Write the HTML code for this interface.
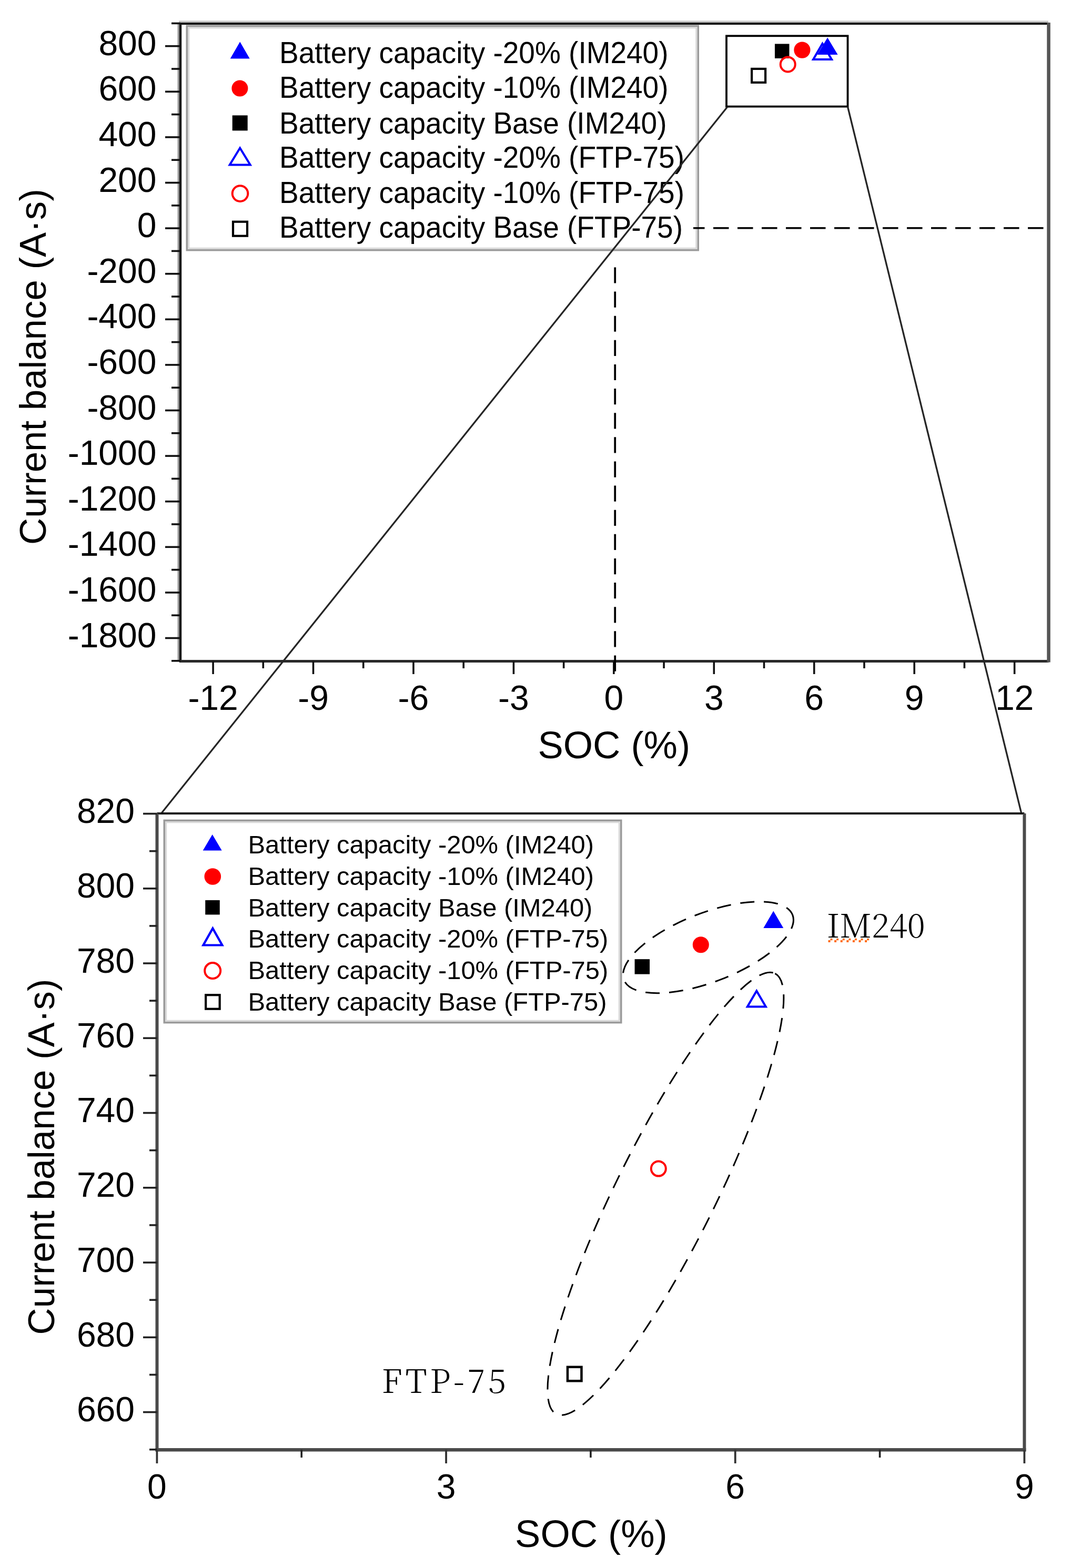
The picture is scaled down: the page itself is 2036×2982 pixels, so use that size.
<!DOCTYPE html>
<html><head><meta charset="utf-8"><title>Current balance vs SOC</title>
<style>
html,body{margin:0;padding:0;background:#fff;}
body{width:2036px;height:2982px;overflow:hidden;}
svg{display:block;}
text{fill:#000;}
.tl{font-family:'Liberation Sans', Arial, sans-serif;font-size:66px;}
.at{font-family:'Liberation Sans', Arial, sans-serif;font-size:70.8px;}
.ax{font-family:'Liberation Sans', Arial, sans-serif;font-size:72.4px;}
.lt{font-family:'Liberation Sans', Arial, sans-serif;font-size:55px;}
.lb{font-family:'Liberation Sans', Arial, sans-serif;font-size:48.9px;}
.an{font-family:'Noto Serif CJK SC','Liberation Serif', 'Times New Roman', serif;font-weight:300;font-size:62.5px;}
</style></head>
<body>
<svg width="2036" height="2982" viewBox="0 0 2036 2982">
<rect width="2036" height="2982" fill="#fff"/>
<line x1="339.2" y1="43" x2="339.2" y2="1258" stroke="#9a9a9a" stroke-width="3.4"/>
<line x1="340" y1="41.3" x2="1993" y2="41.3" stroke="#c4c4c4" stroke-width="3.4"/>
<line x1="343" y1="45" x2="1993.5" y2="45" stroke="#0a0a0a" stroke-width="4"/>
<line x1="343" y1="43" x2="343" y2="1259.5" stroke="#1a1a1a" stroke-width="4.5"/>
<line x1="341" y1="1257.5" x2="1993.5" y2="1257.5" stroke="#2a2a2a" stroke-width="5.2"/>
<line x1="1993.5" y1="43" x2="1993.5" y2="1259.5" stroke="#555" stroke-width="6.5"/>
<line x1="314" y1="87.7" x2="343" y2="87.7" stroke="#111" stroke-width="3.6"/>
<text x="297.5" y="104.7" text-anchor="end" class="tl">800</text>
<line x1="314" y1="174.3" x2="343" y2="174.3" stroke="#111" stroke-width="3.6"/>
<text x="297.5" y="191.3" text-anchor="end" class="tl">600</text>
<line x1="314" y1="260.9" x2="343" y2="260.9" stroke="#111" stroke-width="3.6"/>
<text x="297.5" y="277.9" text-anchor="end" class="tl">400</text>
<line x1="314" y1="347.5" x2="343" y2="347.5" stroke="#111" stroke-width="3.6"/>
<text x="297.5" y="364.5" text-anchor="end" class="tl">200</text>
<line x1="314" y1="434.1" x2="343" y2="434.1" stroke="#111" stroke-width="3.6"/>
<text x="297.5" y="451.1" text-anchor="end" class="tl">0</text>
<line x1="314" y1="520.7" x2="343" y2="520.7" stroke="#111" stroke-width="3.6"/>
<text x="297.5" y="537.7" text-anchor="end" class="tl">-200</text>
<line x1="314" y1="607.3" x2="343" y2="607.3" stroke="#111" stroke-width="3.6"/>
<text x="297.5" y="624.3" text-anchor="end" class="tl">-400</text>
<line x1="314" y1="693.9" x2="343" y2="693.9" stroke="#111" stroke-width="3.6"/>
<text x="297.5" y="710.9" text-anchor="end" class="tl">-600</text>
<line x1="314" y1="780.5" x2="343" y2="780.5" stroke="#111" stroke-width="3.6"/>
<text x="297.5" y="797.5" text-anchor="end" class="tl">-800</text>
<line x1="314" y1="867.1" x2="343" y2="867.1" stroke="#111" stroke-width="3.6"/>
<text x="297.5" y="884.1" text-anchor="end" class="tl">-1000</text>
<line x1="314" y1="953.7" x2="343" y2="953.7" stroke="#111" stroke-width="3.6"/>
<text x="297.5" y="970.7" text-anchor="end" class="tl">-1200</text>
<line x1="314" y1="1040.3" x2="343" y2="1040.3" stroke="#111" stroke-width="3.6"/>
<text x="297.5" y="1057.3" text-anchor="end" class="tl">-1400</text>
<line x1="314" y1="1126.9" x2="343" y2="1126.9" stroke="#111" stroke-width="3.6"/>
<text x="297.5" y="1143.9" text-anchor="end" class="tl">-1600</text>
<line x1="314" y1="1213.5" x2="343" y2="1213.5" stroke="#111" stroke-width="3.6"/>
<text x="297.5" y="1230.5" text-anchor="end" class="tl">-1800</text>
<line x1="326" y1="44.4" x2="343" y2="44.4" stroke="#111" stroke-width="3.6"/>
<line x1="326" y1="131" x2="343" y2="131" stroke="#111" stroke-width="3.6"/>
<line x1="326" y1="217.6" x2="343" y2="217.6" stroke="#111" stroke-width="3.6"/>
<line x1="326" y1="304.2" x2="343" y2="304.2" stroke="#111" stroke-width="3.6"/>
<line x1="326" y1="390.8" x2="343" y2="390.8" stroke="#111" stroke-width="3.6"/>
<line x1="326" y1="477.4" x2="343" y2="477.4" stroke="#111" stroke-width="3.6"/>
<line x1="326" y1="564" x2="343" y2="564" stroke="#111" stroke-width="3.6"/>
<line x1="326" y1="650.6" x2="343" y2="650.6" stroke="#111" stroke-width="3.6"/>
<line x1="326" y1="737.2" x2="343" y2="737.2" stroke="#111" stroke-width="3.6"/>
<line x1="326" y1="823.8" x2="343" y2="823.8" stroke="#111" stroke-width="3.6"/>
<line x1="326" y1="910.4" x2="343" y2="910.4" stroke="#111" stroke-width="3.6"/>
<line x1="326" y1="997" x2="343" y2="997" stroke="#111" stroke-width="3.6"/>
<line x1="326" y1="1083.6" x2="343" y2="1083.6" stroke="#111" stroke-width="3.6"/>
<line x1="326" y1="1170.2" x2="343" y2="1170.2" stroke="#111" stroke-width="3.6"/>
<line x1="326" y1="1256.8" x2="343" y2="1256.8" stroke="#111" stroke-width="3.6"/>
<line x1="405.08" y1="1257.5" x2="405.08" y2="1282" stroke="#111" stroke-width="3.6"/>
<text x="405.08" y="1349.5" text-anchor="middle" class="tl">-12</text>
<line x1="595.52" y1="1257.5" x2="595.52" y2="1282" stroke="#111" stroke-width="3.6"/>
<text x="595.52" y="1349.5" text-anchor="middle" class="tl">-9</text>
<line x1="785.96" y1="1257.5" x2="785.96" y2="1282" stroke="#111" stroke-width="3.6"/>
<text x="785.96" y="1349.5" text-anchor="middle" class="tl">-6</text>
<line x1="976.4" y1="1257.5" x2="976.4" y2="1282" stroke="#111" stroke-width="3.6"/>
<text x="976.4" y="1349.5" text-anchor="middle" class="tl">-3</text>
<line x1="1166.84" y1="1257.5" x2="1166.84" y2="1282" stroke="#111" stroke-width="3.6"/>
<text x="1166.84" y="1349.5" text-anchor="middle" class="tl">0</text>
<line x1="1357.28" y1="1257.5" x2="1357.28" y2="1282" stroke="#111" stroke-width="3.6"/>
<text x="1357.28" y="1349.5" text-anchor="middle" class="tl">3</text>
<line x1="1547.72" y1="1257.5" x2="1547.72" y2="1282" stroke="#111" stroke-width="3.6"/>
<text x="1547.72" y="1349.5" text-anchor="middle" class="tl">6</text>
<line x1="1738.16" y1="1257.5" x2="1738.16" y2="1282" stroke="#111" stroke-width="3.6"/>
<text x="1738.16" y="1349.5" text-anchor="middle" class="tl">9</text>
<line x1="1928.6" y1="1257.5" x2="1928.6" y2="1282" stroke="#111" stroke-width="3.6"/>
<text x="1928.6" y="1349.5" text-anchor="middle" class="tl">12</text>
<line x1="500.3" y1="1257.5" x2="500.3" y2="1271" stroke="#111" stroke-width="3.6"/>
<line x1="690.74" y1="1257.5" x2="690.74" y2="1271" stroke="#111" stroke-width="3.6"/>
<line x1="881.18" y1="1257.5" x2="881.18" y2="1271" stroke="#111" stroke-width="3.6"/>
<line x1="1071.62" y1="1257.5" x2="1071.62" y2="1271" stroke="#111" stroke-width="3.6"/>
<line x1="1262.06" y1="1257.5" x2="1262.06" y2="1271" stroke="#111" stroke-width="3.6"/>
<line x1="1452.5" y1="1257.5" x2="1452.5" y2="1271" stroke="#111" stroke-width="3.6"/>
<line x1="1642.94" y1="1257.5" x2="1642.94" y2="1271" stroke="#111" stroke-width="3.6"/>
<line x1="1833.38" y1="1257.5" x2="1833.38" y2="1271" stroke="#111" stroke-width="3.6"/>
<text x="1167.3" y="1441.6" text-anchor="middle" class="ax">SOC (%)</text>
<text transform="translate(86.7 697.6) rotate(-90)" x="0" y="0" text-anchor="middle" class="at">Current balance (A·s)</text>
<line x1="1169.2" y1="508.4" x2="1169.2" y2="1277" stroke="#000" stroke-width="3.8" stroke-dasharray="30.2 15.93"/>
<rect x="355.3" y="49.3" width="971.9" height="426.4" fill="#fff" stroke="#9a9a9a" stroke-width="3.6"/>
<rect x="358.7" y="52.7" width="965.1" height="419.6" fill="none" stroke="#d8d8d8" stroke-width="3"/>
<line x1="1318" y1="433.8" x2="1987" y2="433.8" stroke="#000" stroke-width="3.6" stroke-dasharray="29.5 16.5" stroke-dashoffset="8"/>
<polygon points="456.2,79.5 474.7,111.5 437.7,111.5" fill="#0000ff"/>
<circle cx="455.9" cy="168" r="15.5" fill="#ff0000"/>
<rect x="441.7" y="219.4" width="29" height="29" fill="#000"/>
<polygon points="456.2,281.5 475.7,313.5 436.7,313.5" fill="none" stroke="#0000ff" stroke-width="4" stroke-linejoin="miter"/>
<circle cx="456.5" cy="368.1" r="14.8" fill="none" stroke="#ff0000" stroke-width="4"/>
<rect x="443" y="421.7" width="27" height="27" fill="none" stroke="#000" stroke-width="4.2"/>
<text transform="translate(531 119.5) scale(1 1.05)" x="0" y="0" class="lt">Battery capacity -20% (IM240)</text>
<text transform="translate(531 185.5) scale(1 1.05)" x="0" y="0" class="lt">Battery capacity -10% (IM240)</text>
<text transform="translate(531 254.3) scale(1 1.05)" x="0" y="0" class="lt">Battery capacity Base (IM240)</text>
<text transform="translate(531 318.5) scale(1 1.05)" x="0" y="0" class="lt">Battery capacity -20% (FTP-75)</text>
<text transform="translate(531 385.5) scale(1 1.05)" x="0" y="0" class="lt">Battery capacity -10% (FTP-75)</text>
<text transform="translate(531 452) scale(1 1.05)" x="0" y="0" class="lt">Battery capacity Base (FTP-75)</text>
<rect x="1381" y="68.3" width="230.5" height="134.3" fill="none" stroke="#000" stroke-width="3.8"/>
<rect x="1472.95" y="83.45" width="27.5" height="27.5" fill="#000"/>
<circle cx="1524.9" cy="95.1" r="15.6" fill="#ff0000"/>
<circle cx="1497.7" cy="122.4" r="14" fill="none" stroke="#ff0000" stroke-width="4"/>
<rect x="1429.1" y="130.9" width="26" height="26" fill="none" stroke="#000" stroke-width="4.2"/>
<polygon points="1563.5,83 1581,113 1546,113" fill="none" stroke="#0000ff" stroke-width="4" stroke-linejoin="miter"/>
<polygon points="1573.1,71.5 1592.6,104 1553.6,104" fill="#0000ff"/>
<line x1="1383" y1="203" x2="306.5" y2="1547" stroke="#262626" stroke-width="3.3"/>
<line x1="1611.5" y1="203" x2="1942" y2="1548" stroke="#262626" stroke-width="3.3"/>
<line x1="298.5" y1="1547" x2="1947.4" y2="1547" stroke="#141414" stroke-width="4.2"/>
<line x1="298.5" y1="1547" x2="298.5" y2="2760.3" stroke="#4a4a4a" stroke-width="6"/>
<line x1="1947.4" y1="1547" x2="1947.4" y2="2760.3" stroke="#4a4a4a" stroke-width="6"/>
<line x1="295.5" y1="2757.3" x2="1950.4" y2="2757.3" stroke="#4a4a4a" stroke-width="6.5"/>
<line x1="272" y1="1547.5" x2="298.5" y2="1547.5" stroke="#222" stroke-width="3.6"/>
<text x="256" y="1565" text-anchor="end" class="tl">820</text>
<line x1="272" y1="1689.76" x2="298.5" y2="1689.76" stroke="#222" stroke-width="3.6"/>
<text x="256" y="1707.26" text-anchor="end" class="tl">800</text>
<line x1="272" y1="1832.02" x2="298.5" y2="1832.02" stroke="#222" stroke-width="3.6"/>
<text x="256" y="1849.52" text-anchor="end" class="tl">780</text>
<line x1="272" y1="1974.28" x2="298.5" y2="1974.28" stroke="#222" stroke-width="3.6"/>
<text x="256" y="1991.78" text-anchor="end" class="tl">760</text>
<line x1="272" y1="2116.54" x2="298.5" y2="2116.54" stroke="#222" stroke-width="3.6"/>
<text x="256" y="2134.04" text-anchor="end" class="tl">740</text>
<line x1="272" y1="2258.8" x2="298.5" y2="2258.8" stroke="#222" stroke-width="3.6"/>
<text x="256" y="2276.3" text-anchor="end" class="tl">720</text>
<line x1="272" y1="2401.06" x2="298.5" y2="2401.06" stroke="#222" stroke-width="3.6"/>
<text x="256" y="2418.56" text-anchor="end" class="tl">700</text>
<line x1="272" y1="2543.32" x2="298.5" y2="2543.32" stroke="#222" stroke-width="3.6"/>
<text x="256" y="2560.82" text-anchor="end" class="tl">680</text>
<line x1="272" y1="2685.58" x2="298.5" y2="2685.58" stroke="#222" stroke-width="3.6"/>
<text x="256" y="2703.08" text-anchor="end" class="tl">660</text>
<line x1="284" y1="1618.63" x2="298.5" y2="1618.63" stroke="#222" stroke-width="3.6"/>
<line x1="284" y1="1760.89" x2="298.5" y2="1760.89" stroke="#222" stroke-width="3.6"/>
<line x1="284" y1="1903.15" x2="298.5" y2="1903.15" stroke="#222" stroke-width="3.6"/>
<line x1="284" y1="2045.41" x2="298.5" y2="2045.41" stroke="#222" stroke-width="3.6"/>
<line x1="284" y1="2187.67" x2="298.5" y2="2187.67" stroke="#222" stroke-width="3.6"/>
<line x1="284" y1="2329.93" x2="298.5" y2="2329.93" stroke="#222" stroke-width="3.6"/>
<line x1="284" y1="2472.19" x2="298.5" y2="2472.19" stroke="#222" stroke-width="3.6"/>
<line x1="284" y1="2614.45" x2="298.5" y2="2614.45" stroke="#222" stroke-width="3.6"/>
<line x1="284" y1="2756.71" x2="298.5" y2="2756.71" stroke="#222" stroke-width="3.6"/>
<line x1="298.4" y1="2757.3" x2="298.4" y2="2783" stroke="#333" stroke-width="3.8"/>
<text x="298.4" y="2850" text-anchor="middle" class="tl">0</text>
<line x1="848.06" y1="2757.3" x2="848.06" y2="2783" stroke="#333" stroke-width="3.8"/>
<text x="848.06" y="2850" text-anchor="middle" class="tl">3</text>
<line x1="1397.72" y1="2757.3" x2="1397.72" y2="2783" stroke="#333" stroke-width="3.8"/>
<text x="1397.72" y="2850" text-anchor="middle" class="tl">6</text>
<line x1="1947.38" y1="2757.3" x2="1947.38" y2="2783" stroke="#333" stroke-width="3.8"/>
<text x="1947.38" y="2850" text-anchor="middle" class="tl">9</text>
<line x1="573.23" y1="2757.3" x2="573.23" y2="2772" stroke="#222" stroke-width="3.6"/>
<line x1="1122.89" y1="2757.3" x2="1122.89" y2="2772" stroke="#222" stroke-width="3.6"/>
<line x1="1672.55" y1="2757.3" x2="1672.55" y2="2772" stroke="#222" stroke-width="3.6"/>
<text x="1123.9" y="2941.6" text-anchor="middle" class="ax">SOC (%)</text>
<text transform="translate(103 2200) rotate(-90)" x="0" y="0" text-anchor="middle" class="at">Current balance (A·s)</text>
<rect x="312.3" y="1560.3" width="868.4" height="384.4" fill="#fff" stroke="#9a9a9a" stroke-width="3.6"/>
<rect x="315.7" y="1563.7" width="861.6" height="377.6" fill="none" stroke="#d8d8d8" stroke-width="3"/>
<polygon points="403.7,1587 421.7,1617.5 385.7,1617.5" fill="#0000ff"/>
<circle cx="404.3" cy="1667" r="15.8" fill="#ff0000"/>
<rect x="390.25" y="1711.95" width="27.5" height="27.5" fill="#000"/>
<polygon points="404.4,1765.5 422.4,1797.5 386.4,1797.5" fill="none" stroke="#0000ff" stroke-width="4.2" stroke-linejoin="miter"/>
<circle cx="404.2" cy="1846.1" r="15" fill="none" stroke="#ff0000" stroke-width="4"/>
<rect x="391.15" y="1892.25" width="26.5" height="26.5" fill="none" stroke="#000" stroke-width="4.2"/>
<text x="471.5" y="1623" class="lb">Battery capacity -20% (IM240)</text>
<text x="471.5" y="1682.8" class="lb">Battery capacity -10% (IM240)</text>
<text x="471.5" y="1742.6" class="lb">Battery capacity Base (IM240)</text>
<text x="471.5" y="1802.4" class="lb">Battery capacity -20% (FTP-75)</text>
<text x="471.5" y="1862.2" class="lb">Battery capacity -10% (FTP-75)</text>
<text x="471.5" y="1922" class="lb">Battery capacity Base (FTP-75)</text>
<ellipse cx="1346.4" cy="1801.7" rx="171.8" ry="65.6" transform="rotate(-21.1 1346.4 1801.7)" fill="none" stroke="#000" stroke-width="3" stroke-dasharray="27 18"/>
<ellipse cx="1265.4" cy="2270.3" rx="467.7" ry="94.3" transform="rotate(-63.6 1265.4 2270.3)" fill="none" stroke="#000" stroke-width="3" stroke-dasharray="27 18"/>
<rect x="1206.55" y="1824.15" width="28.5" height="28.5" fill="#000"/>
<circle cx="1332.3" cy="1796.8" r="15.5" fill="#ff0000"/>
<polygon points="1470.3,1732.5 1489.3,1765 1451.3,1765" fill="#0000ff"/>
<polygon points="1438.3,1884.5 1455.8,1914.5 1420.8,1914.5" fill="none" stroke="#0000ff" stroke-width="4" stroke-linejoin="miter"/>
<circle cx="1251.8" cy="2222.6" r="14" fill="none" stroke="#ff0000" stroke-width="4"/>
<rect x="1078.95" y="2599.75" width="26.5" height="26.5" fill="none" stroke="#000" stroke-width="4.5"/>
<text x="1571.5" y="1783.2" class="an">IM240</text>
<path d="M1574.5 1788h4v4h-4z M1578.5 1784.8h4v3.4h-4z" fill="#ff6a10"/>
<path d="M1586.1 1788h4v4h-4z M1590.1 1784.8h4v3.4h-4z" fill="#ff6a10"/>
<path d="M1597.7 1788h4v4h-4z M1601.7 1784.8h4v3.4h-4z" fill="#ff6a10"/>
<path d="M1609.3 1788h4v4h-4z M1613.3 1784.8h4v3.4h-4z" fill="#ff6a10"/>
<path d="M1620.9 1788h4v4h-4z M1624.9 1784.8h4v3.4h-4z" fill="#ff6a10"/>
<path d="M1632.5 1788h4v4h-4z M1636.5 1784.8h4v3.4h-4z" fill="#ff6a10"/>
<path d="M1644.1 1788h4v4h-4z M1648.1 1784.8h4v3.4h-4z" fill="#ff6a10"/>
<text x="725.4" y="2649" class="an" letter-spacing="5.6">FTP-75</text>
</svg>
</body></html>
